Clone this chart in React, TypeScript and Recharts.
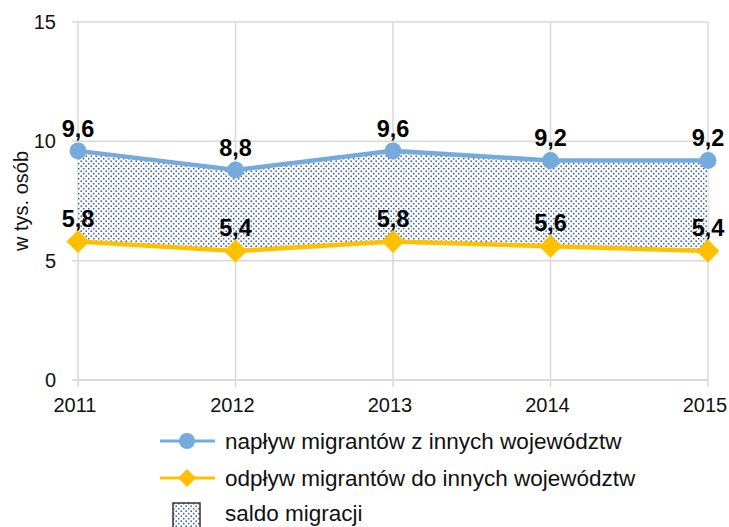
import {
  ComposedChart,
  Line,
  Area,
  XAxis,
  YAxis,
  CartesianGrid,
  LabelList,
} from "recharts";

const years = ["2011", "2012", "2013", "2014", "2015"];
const naplyw = [9.6, 8.8, 9.6, 9.2, 9.2];
const odplyw = [5.8, 5.4, 5.8, 5.6, 5.4];
const yTicks = [0, 5, 10, 15];

const BLUE = "#75ABDC";
const GOLD = "#FFC000";
const GRID = "#d9d9d9";
const FONT = "'Liberation Sans', Arial, sans-serif";

const data = years.map((year, i) => ({
  year,
  naplyw: naplyw[i],
  odplyw: odplyw[i],
  saldo: [odplyw[i], naplyw[i]],
}));

const fmt = (v: any) => Number(v).toFixed(1).replace(".", ",");

const Diamond = (props: any) => {
  const { cx, cy } = props;
  if (cx == null || cy == null) return null;
  const s = 11.5;
  return (
    <polygon
      points={`${cx - s},${cy} ${cx},${cy - s} ${cx + s},${cy} ${cx},${cy + s}`}
      fill={GOLD}
    />
  );
};

const DotsPattern = ({ id }: { id: string }) => (
  <pattern id={id} width="5" height="5" patternUnits="userSpaceOnUse">
    <rect width="5" height="5" fill="#ffffff" />
    <circle cx="1.2" cy="1.2" r="0.85" fill="#3d5c9e" />
    <circle cx="3.7" cy="3.7" r="0.85" fill="#3d5c9e" />
  </pattern>
);

const labelStyle = {
  fill: "#000",
  fontSize: 23.5,
  fontWeight: 700,
  fontFamily: FONT,
};

const Legend = () => (
  <svg
    width={729}
    height={110}
    style={{ position: "absolute", left: 0, top: 420 }}
  >
    <defs>
      <DotsPattern id="legendDots" />
    </defs>
    <line x1={160} x2={215} y1={21} y2={21} stroke={BLUE} strokeWidth={3} />
    <circle cx={187} cy={21} r={8} fill={BLUE} />
    <text x={225} y={29} fontSize={22.5} fontFamily={FONT} fill="#111">
      napływ migrantów z innych województw
    </text>
    <line x1={160} x2={215} y1={58} y2={58} stroke={GOLD} strokeWidth={3} />
    <polygon points="178,58 187,49 196,58 187,67" fill={GOLD} />
    <text x={225} y={66} fontSize={22.5} fontFamily={FONT} fill="#111">
      odpływ migrantów do innych województw
    </text>
    <rect
      x={173}
      y={83}
      width={27}
      height={26}
      fill="url(#legendDots)"
      stroke="#333"
      strokeWidth={1.5}
    />
    <text x={225} y={101} fontSize={22.5} fontFamily={FONT} fill="#111">
      saldo migracji
    </text>
  </svg>
);

export default function App() {
  return (
    <div
      style={{
        position: "absolute",
        left: 0,
        top: 0,
        width: 729,
        height: 527,
        background: "#fff",
        fontFamily: FONT,
      }}
    >
      <ComposedChart
        width={729}
        height={527}
        data={data}
        margin={{ top: 22, right: 21, left: 0, bottom: 107 }}
      >
        <defs>
          <DotsPattern id="saldoDots" />
        </defs>
        <CartesianGrid stroke={GRID} strokeWidth={1.5} />
        <XAxis
          dataKey="year"
          scale="point"
          padding={{ left: 0, right: 0 }}
          height={40}
          axisLine={{ stroke: GRID, strokeWidth: 1.5 }}
          tickLine={{ stroke: GRID, strokeWidth: 1.5 }}
          tickSize={7}
          tickMargin={11}
          tick={{ fill: "#111", fontSize: 20, fontFamily: FONT, dx: -3 }}
        />
        <YAxis
          domain={[0, 15]}
          ticks={yTicks}
          width={78}
          axisLine={false}
          tickLine={{ stroke: GRID, strokeWidth: 1.5 }}
          tickSize={6}
          tickMargin={16}
          tick={{ fill: "#111", fontSize: 20, fontFamily: FONT }}
          label={{
            value: "w tys. osób",
            angle: -90,
            position: "insideLeft",
            offset: 21,
            style: {
              textAnchor: "middle",
              fill: "#111",
              fontSize: 20,
              fontFamily: FONT,
            },
          }}
        />
        <Area
          dataKey="saldo"
          stroke="none"
          fill="url(#saldoDots)"
          fillOpacity={1}
          isAnimationActive={false}
          activeDot={false}
        />
        <Line
          dataKey="naplyw"
          stroke={BLUE}
          strokeWidth={4.5}
          dot={{ r: 8.5, fill: BLUE, stroke: BLUE, strokeWidth: 0 }}
          activeDot={false}
          isAnimationActive={false}
        >
          <LabelList
            dataKey="naplyw"
            position="top"
            offset={14}
            formatter={fmt}
            style={labelStyle}
          />
        </Line>
        <Line
          dataKey="odplyw"
          stroke={GOLD}
          strokeWidth={4.5}
          dot={<Diamond />}
          activeDot={false}
          isAnimationActive={false}
        >
          <LabelList
            dataKey="odplyw"
            position="top"
            offset={15}
            formatter={fmt}
            style={labelStyle}
          />
        </Line>
      </ComposedChart>
      <Legend />
    </div>
  );
}
